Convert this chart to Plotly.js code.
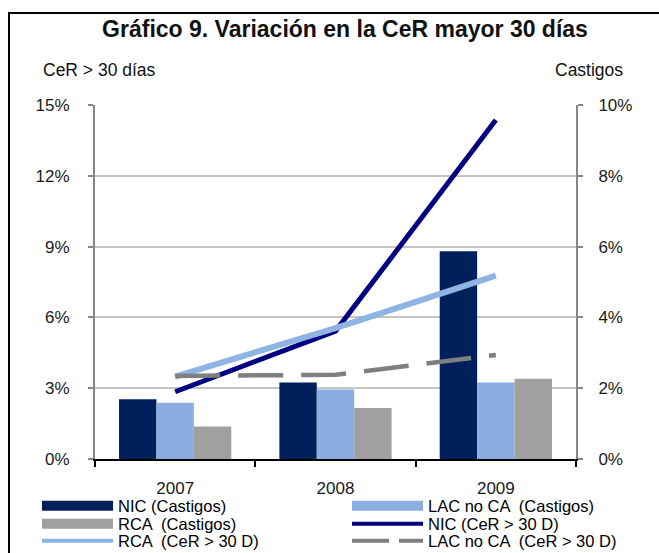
<!DOCTYPE html>
<html>
<head>
<meta charset="utf-8">
<script src="https://cdn.plot.ly/plotly-3.0.1.min.js"></script>
<style>
html,body{margin:0;padding:0;background:#fff;overflow:hidden;}
#chart{width:659px;height:553px;position:relative;}
#frame{position:absolute;left:8px;top:12px;width:700px;height:600px;border:2px solid #000;pointer-events:none;}
</style>
</head>
<body>
<div id="chart"></div>
<div id="frame"></div>
<script>
// Data
var years = ['2007', '2008', '2009'];
var castigosNIC = [1.69, 2.16, 5.87];
var castigosLAC = [1.59, 1.96, 2.16];
var castigosRCA = [0.92, 1.44, 2.27];
var cerNIC = [2.85, 5.42, 14.36];
var cerRCA = [3.49, 5.55, 7.77];
var cerLAC = [3.52, 3.57, 4.41];
var seriesNames = ['NIC (Castigos)', 'LAC no CA  (Castigos)', 'RCA  (Castigos)',
                   'NIC (CeR > 30 D)', 'RCA  (CeR > 30 D)', 'LAC no CA  (CeR > 30 D)'];

var cNIC = '#00205b', cLAC = '#8aaee0', cRCA = '#a0a0a0';
var lNIC = '#000080', lRCA = '#8db4e2', lLAC = '#7f7f7f';

function barTrace(vals, color, name) {
  return {type: 'bar', x: years, y: vals, marker: {color: color}, name: name,
          showlegend: false, yaxis: 'y', hoverinfo: 'y'};
}
function legendProxy(color, name, width, dash, leg) {
  return {type: 'scatter', mode: 'lines', x: [null], y: [null], name: name, legend: leg,
          line: {color: color, width: width, dash: dash || 'solid'}, yaxis: 'y2', hoverinfo: 'skip'};
}
function lineTrace(vals, color, name, width, dash) {
  return {type: 'scatter', mode: 'lines', x: years, y: vals, name: name,
          line: {color: color, width: width, dash: dash || 'solid'}, yaxis: 'y2', showlegend: false};
}

var traces = [
  barTrace(castigosNIC, cNIC, seriesNames[0]),
  barTrace(castigosLAC, cLAC, seriesNames[1]),
  barTrace(castigosRCA, cRCA, seriesNames[2]),
  lineTrace(cerNIC, lNIC, seriesNames[3], 5),
  lineTrace(cerRCA, lRCA, seriesNames[4], 6),
  lineTrace(cerLAC, lLAC, seriesNames[5], 4.5, '45px,18px'),
  legendProxy(cNIC, seriesNames[0], 10, null, 'legend'),
  legendProxy(cLAC, seriesNames[1], 10, null, 'legend2'),
  legendProxy(cRCA, seriesNames[2], 10, null, 'legend3'),
  legendProxy(lNIC, seriesNames[3], 4, null, 'legend4'),
  legendProxy(lRCA, seriesNames[4], 4, null, 'legend5'),
  legendProxy(lLAC, seriesNames[5], 4, '37px,10px', 'legend6')
];

var axisGray = '#868686';
var FONT = 'Liberation Sans, Arial, sans-serif';
var tickFont = {family: FONT, size: 17, color: '#1a1a1a'};

function legendAt(px, py) {
  return {xref: 'container', yref: 'container', x: px / 659, y: 1 - py / 553,
          xanchor: 'left', yanchor: 'middle', itemwidth: 71, borderwidth: 0,
          font: {family: FONT, size: 16.5, color: '#000'},
          bgcolor: 'rgba(0,0,0,0)', itemclick: false, itemdoubleclick: false};
}

var layout = {
  width: 659, height: 553,
  margin: {l: 95, r: 83, t: 105, b: 94, autoexpand: false},
  paper_bgcolor: '#fff', plot_bgcolor: '#fff',
  font: {family: FONT, color: '#000'},
  title: {text: '<b>Gráfico 9. Variación en la CeR mayor 30 días</b>',
          font: {size: 23, color: '#111'}, x: 345 / 659, xanchor: 'center', y: 1 - 29 / 553, yanchor: 'middle'},
  barmode: 'group', bargap: 0.3, bargroupgap: 0,
  xaxis: {type: 'category', showline: true, linecolor: '#000', linewidth: 2,
          ticks: 'outside', tickson: 'boundaries', ticklen: 6, tickcolor: '#000', tickwidth: 2,
          tickfont: tickFont, ticklabelstandoff: 13, tickangle: 0, showgrid: false, zeroline: false, fixedrange: true},
  yaxis: {side: 'right', range: [0, 10], dtick: 2, ticksuffix: '%', tickfont: tickFont,
          showline: true, linecolor: axisGray, linewidth: 2, ticks: 'outside', ticklen: 5,
          tickcolor: axisGray, tickwidth: 2, showgrid: true, gridcolor: '#c4c4c4', gridwidth: 2,
          zeroline: false, ticklabelstandoff: 12},
  yaxis2: {overlaying: 'y', side: 'left', range: [0, 15], dtick: 3, ticksuffix: '%', tickfont: tickFont,
           showline: true, linecolor: axisGray, linewidth: 2, ticks: 'outside', ticklen: 5,
           tickcolor: axisGray, tickwidth: 2, showgrid: false, zeroline: false, ticklabelstandoff: 15},
  legend: legendAt(37, 506),
  legend2: legendAt(347, 506),
  legend3: legendAt(37, 524),
  legend4: legendAt(347, 524),
  legend5: legendAt(37, 541),
  legend6: legendAt(347, 541),
  annotations: [
    {text: 'CeR > 30 días', xref: 'paper', yref: 'paper', x: -0.1123, y: 1.099,
     xanchor: 'left', yanchor: 'middle', showarrow: false,
     font: {family: FONT, size: 17.5, color: '#111'}},
    {text: 'Castigos', xref: 'paper', yref: 'paper', x: 0.952, y: 1.099,
     xanchor: 'left', yanchor: 'middle', showarrow: false,
     font: {family: FONT, size: 17.5, color: '#111'}}
  ]
};

Plotly.newPlot('chart', traces, layout, {displayModeBar: false, staticPlot: true});
</script>
</body>
</html>
